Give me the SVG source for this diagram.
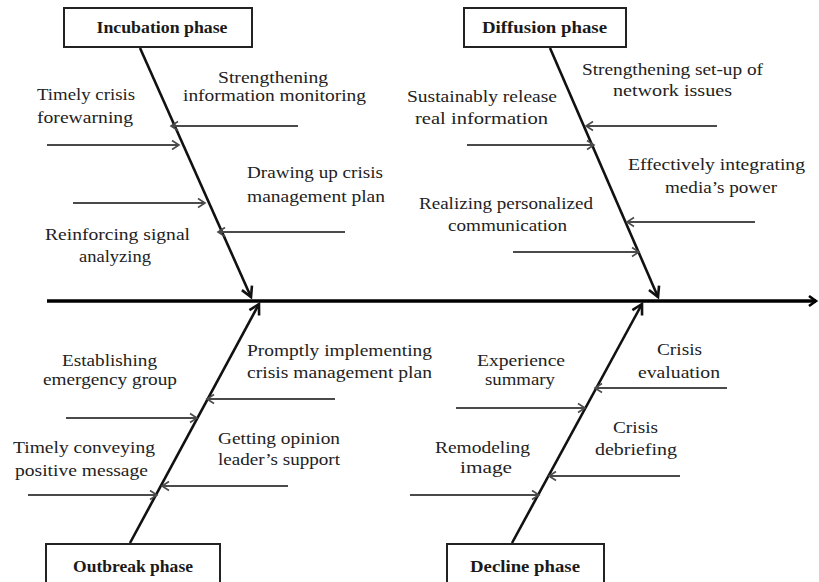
<svg xmlns="http://www.w3.org/2000/svg" width="819" height="582" viewBox="0 0 819 582">
<style>
text{font-family:"Liberation Serif","Times New Roman",serif;font-size:17px;fill:#222;text-anchor:middle}
.box{fill:#fff;stroke:#222;stroke-width:2}
.title{font-weight:bold;fill:#1a1a1a}
.bone{stroke:#111;stroke-width:2.6;fill:none}
.br{stroke:#4a4a4a;stroke-width:2;fill:none;marker-end:url(#ah)}
.spine{stroke:#000;stroke-width:3.5;fill:none;marker-end:url(#sh)}
</style>
<defs>
<marker id="ah" markerUnits="userSpaceOnUse" markerWidth="12" markerHeight="12" refX="9" refY="6" orient="auto">
<path d="M2,1.5 L9,6 L2,10.5" fill="none" stroke="#4a4a4a" stroke-width="1.6"/>
</marker>
<marker id="bh" markerUnits="userSpaceOnUse" markerWidth="14" markerHeight="14" refX="11" refY="7" orient="auto">
<path d="M1,1.5 L11,7 L1,12.5" fill="none" stroke="#111" stroke-width="2.6"/>
</marker>
<marker id="sh" markerUnits="userSpaceOnUse" markerWidth="14" markerHeight="14" refX="11" refY="7" orient="auto">
<path d="M4,2 L11,7 L4,12" fill="none" stroke="#000" stroke-width="2.6"/>
</marker>
</defs>
<rect width="819" height="582" fill="#fff"/>
<g id="connectors">
<line class="spine" x1="47" y1="301" x2="816" y2="301"/>
<line class="bone" x1="140" y1="48" x2="251" y2="297" marker-end="url(#bh)"/>
<line class="bone" x1="550" y1="48" x2="658" y2="297" marker-end="url(#bh)"/>
<line class="bone" x1="130" y1="543" x2="259" y2="304" marker-end="url(#bh)"/>
<line class="bone" x1="512" y1="543" x2="642" y2="304" marker-end="url(#bh)"/>
<line class="br" x1="298" y1="126" x2="171" y2="126"/>
<line class="br" x1="47" y1="145" x2="179" y2="145"/>
<line class="br" x1="73" y1="203" x2="205" y2="203"/>
<line class="br" x1="345" y1="232" x2="218" y2="232"/>
<line class="br" x1="717" y1="126" x2="586" y2="126"/>
<line class="br" x1="467" y1="145" x2="594" y2="145"/>
<line class="br" x1="755" y1="222" x2="627" y2="222"/>
<line class="br" x1="513" y1="252" x2="639" y2="252"/>
<line class="br" x1="335" y1="399" x2="207" y2="399"/>
<line class="br" x1="66" y1="418" x2="197" y2="418"/>
<line class="br" x1="288" y1="486" x2="162" y2="486"/>
<line class="br" x1="28" y1="495" x2="157" y2="495"/>
<line class="br" x1="727" y1="388" x2="595" y2="388"/>
<line class="br" x1="456" y1="408" x2="585" y2="408"/>
<line class="br" x1="680" y1="476" x2="549" y2="476"/>
<line class="br" x1="410" y1="495" x2="539" y2="495"/>
</g>
<g id="incubation">
<rect class="box" x="64" y="8" width="188" height="39"/>
<text class="title" x="162" y="33" textLength="131" lengthAdjust="spacingAndGlyphs">Incubation phase</text>
<text x="86" y="100" textLength="98" lengthAdjust="spacingAndGlyphs">Timely  crisis</text>
<text x="85" y="123" textLength="96" lengthAdjust="spacingAndGlyphs">forewarning</text>
<text x="273" y="83" textLength="110" lengthAdjust="spacingAndGlyphs">Strengthening</text>
<text x="274.5" y="101" textLength="183" lengthAdjust="spacingAndGlyphs">information monitoring</text>
<text x="315" y="178" textLength="136" lengthAdjust="spacingAndGlyphs">Drawing up crisis</text>
<text x="316" y="202" textLength="138" lengthAdjust="spacingAndGlyphs">management plan</text>
<text x="117.5" y="240" textLength="145" lengthAdjust="spacingAndGlyphs">Reinforcing signal</text>
<text x="115" y="262" textLength="72" lengthAdjust="spacingAndGlyphs">analyzing</text>
</g>
<g id="diffusion">
<rect class="box" x="464" y="8" width="162" height="39"/>
<text class="title" x="544.5" y="33" textLength="125" lengthAdjust="spacingAndGlyphs">Diffusion phase</text>
<text x="672.5" y="75" textLength="181" lengthAdjust="spacingAndGlyphs">Strengthening set-up of</text>
<text x="672.5" y="96" textLength="119" lengthAdjust="spacingAndGlyphs">network issues</text>
<text x="482" y="102" textLength="150" lengthAdjust="spacingAndGlyphs">Sustainably release</text>
<text x="481.5" y="124" textLength="133" lengthAdjust="spacingAndGlyphs">real information</text>
<text x="716.5" y="170" textLength="177" lengthAdjust="spacingAndGlyphs">Effectively integrating</text>
<text x="721" y="193" textLength="112" lengthAdjust="spacingAndGlyphs">media’s power</text>
<text x="506" y="209" textLength="174" lengthAdjust="spacingAndGlyphs">Realizing personalized</text>
<text x="507.5" y="231" textLength="119" lengthAdjust="spacingAndGlyphs">communication</text>
</g>
<g id="outbreak">
<rect class="box" x="46" y="544" width="174" height="46"/>
<text class="title" x="133" y="572" textLength="120" lengthAdjust="spacingAndGlyphs">Outbreak phase</text>
<text x="109.5" y="366" textLength="95" lengthAdjust="spacingAndGlyphs">Establishing</text>
<text x="110" y="385" textLength="134" lengthAdjust="spacingAndGlyphs">emergency group</text>
<text x="339.5" y="356" textLength="185" lengthAdjust="spacingAndGlyphs">Promptly implementing</text>
<text x="339.5" y="378" textLength="185" lengthAdjust="spacingAndGlyphs">crisis management plan</text>
<text x="279" y="444" textLength="122" lengthAdjust="spacingAndGlyphs">Getting opinion</text>
<text x="279" y="465" textLength="122" lengthAdjust="spacingAndGlyphs">leader’s support</text>
<text x="84" y="453" textLength="142" lengthAdjust="spacingAndGlyphs">Timely  conveying</text>
<text x="81.5" y="476" textLength="133" lengthAdjust="spacingAndGlyphs">positive message</text>
</g>
<g id="decline">
<rect class="box" x="447" y="544" width="157" height="46"/>
<text class="title" x="525" y="572" textLength="110" lengthAdjust="spacingAndGlyphs">Decline phase</text>
<text x="679.5" y="355" textLength="45" lengthAdjust="spacingAndGlyphs">Crisis</text>
<text x="679" y="378" textLength="82" lengthAdjust="spacingAndGlyphs">evaluation</text>
<text x="521" y="366" textLength="88" lengthAdjust="spacingAndGlyphs">Experience</text>
<text x="520" y="385" textLength="70" lengthAdjust="spacingAndGlyphs">summary</text>
<text x="635.5" y="433" textLength="45" lengthAdjust="spacingAndGlyphs">Crisis</text>
<text x="636" y="455" textLength="82" lengthAdjust="spacingAndGlyphs">debriefing</text>
<text x="482.5" y="453" textLength="95" lengthAdjust="spacingAndGlyphs">Remodeling</text>
<text x="486" y="473" textLength="52" lengthAdjust="spacingAndGlyphs">image</text>
</g>
</svg>
